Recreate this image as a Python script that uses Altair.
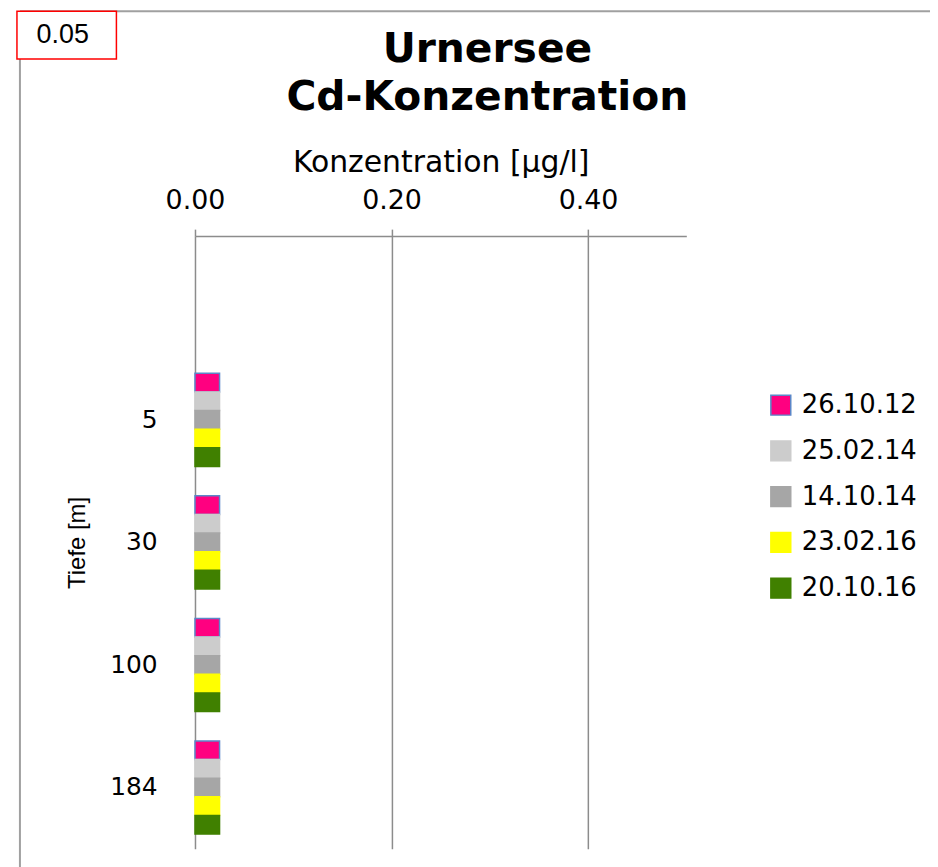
import altair as alt
import pandas as pd

# ---- data ----
depths = ["5", "30", "100", "184"]
dates = ["26.10.12", "25.02.14", "14.10.14", "23.02.16", "20.10.16"]
cd_26_10_12 = [0.025, 0.025, 0.025, 0.025]
cd_25_02_14 = [0.025, 0.025, 0.025, 0.025]
cd_14_10_14 = [0.025, 0.025, 0.025, 0.025]
cd_23_02_16 = [0.025, 0.025, 0.025, 0.025]
cd_20_10_16 = [0.025, 0.025, 0.025, 0.025]
x_ticks = [0.0, 0.2, 0.4]
note_text = "0.05"
title_lines = ["Urnersee", "Cd-Konzentration"]

fill_colors = ["#FF0080", "#CCCCCC", "#A6A6A6", "#FFFF00", "#408000"]
stroke_colors = ["#5B87C8", "#CCCCCC", "#A6A6A6", "#FFFF00", "#408000"]

series = [cd_26_10_12, cd_25_02_14, cd_14_10_14, cd_23_02_16, cd_20_10_16]
rows = []
for d, vals in zip(dates, series):
    for dep, v in zip(depths, vals):
        rows.append({"depth": dep, "date": d, "value": v})
df = pd.DataFrame(rows)

legend_spec = alt.Legend(
    title=None, orient="none", legendX=576, legendY=157,
    symbolType="square", symbolSize=400, symbolStrokeWidth=1.5,
    labelFont="DejaVu Sans", labelFontSize=26, labelColor="#000000",
    labelOffset=8, rowPadding=20, padding=0,
)

bars = alt.Chart(df).mark_bar(strokeWidth=1.5).encode(
    x=alt.X("value:Q",
            scale=alt.Scale(domain=[0, 0.5], nice=False, zero=True),
            axis=alt.Axis(orient="top", values=x_ticks, format=".2f",
                          title="Konzentration [µg/l]",
                          titleFont="DejaVu Sans", titleFontSize=30,
                          titleFontWeight="normal", titleColor="#000000",
                          titlePadding=9,
                          labelFont="DejaVu Sans", labelFontSize=27,
                          labelColor="#000000", labelPadding=15,
                          labelFlush=False,
                          tickSize=7, tickColor="#8C8C8C", tickWidth=1.5,
                          domainColor="#8C8C8C", domainWidth=1.5,
                          grid=True, gridColor="#8C8C8C", gridWidth=1.5)),
    y=alt.Y("depth:N",
            scale=alt.Scale(domain=[" "] + depths, paddingInner=0.24, paddingOuter=0.12),
            axis=alt.Axis(title="Tiefe [m]", titleFont="Liberation Sans",
                          titleFontSize=24, titleFontWeight="normal",
                          titleColor="#000000", titlePadding=20,
                          labelFont="DejaVu Sans", labelFontSize=25,
                          labelColor="#000000", labelPadding=38,
                          ticks=False, domain=False, grid=False)),
    yOffset=alt.YOffset("date:N", sort=dates,
                        scale=alt.Scale(domain=dates, paddingInner=0, paddingOuter=0)),
    fill=alt.Fill("date:N", scale=alt.Scale(domain=dates, range=fill_colors), legend=legend_spec),
    stroke=alt.Stroke("date:N", scale=alt.Scale(domain=dates, range=stroke_colors), legend=legend_spec),
)

one = alt.Data(values=[{"k": 1}])

frame_left = alt.Chart(one).mark_rule(color="#A0A0A0", strokeWidth=2).encode(
    x=alt.value(-176), y=alt.value(-226), y2=alt.value(640))
frame_top = alt.Chart(one).mark_rule(color="#A0A0A0", strokeWidth=2).encode(
    x=alt.value(-176), x2=alt.value(760), y=alt.value(-226))
note_box = alt.Chart(one).mark_rect(fill="#FFFFFF", stroke="#FF0000", strokeWidth=1.5).encode(
    x=alt.value(-179), x2=alt.value(-79), y=alt.value(-226), y2=alt.value(-178))
note = alt.Chart(one).mark_text(font="Liberation Sans", fontSize=27, color="#000000",
                                align="center", baseline="middle").encode(
    x=alt.value(-133), y=alt.value(-202), text=alt.value(note_text))
t1 = alt.Chart(one).mark_text(font="DejaVu Sans", fontSize=41, fontWeight="bold",
                              color="#000000", align="center", baseline="alphabetic").encode(
    x=alt.value(294), y=alt.value(-175), text=alt.value(title_lines[0]))
t2 = alt.Chart(one).mark_text(font="DejaVu Sans", fontSize=41, fontWeight="bold",
                              color="#000000", align="center", baseline="alphabetic").encode(
    x=alt.value(294), y=alt.value(-127), text=alt.value(title_lines[1]))

chart = alt.layer(bars, frame_left, frame_top, note_box, note, t1, t2).properties(
    width=494, height=616,
    background="#FFFFFF",
    autosize=alt.AutoSizeParams(type="none"),
    padding={"left": 188, "top": 227, "right": 245, "bottom": 16},
).configure_view(stroke="transparent", strokeWidth=0)

chart.save("out.html", embed_options={"renderer": "svg", "actions": False})
